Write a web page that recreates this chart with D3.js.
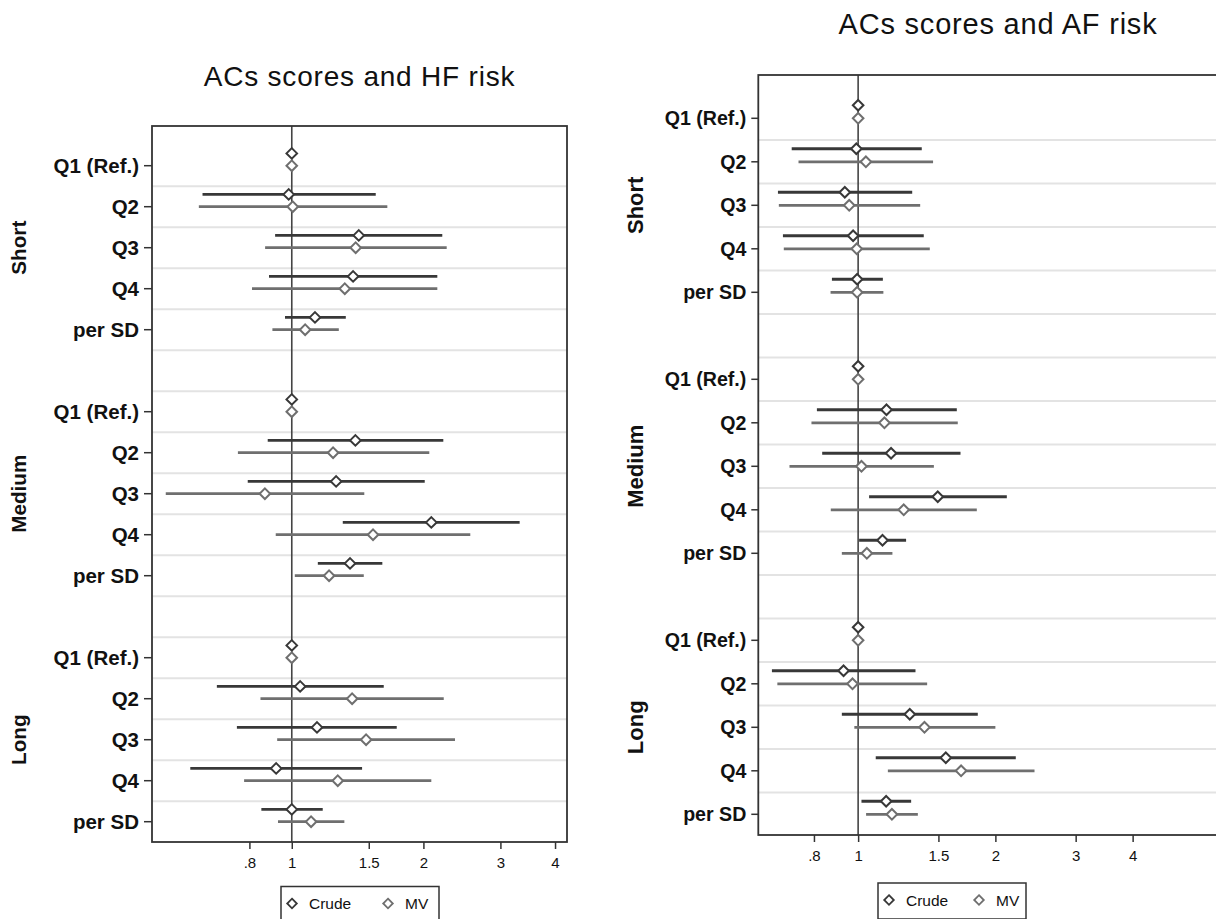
<!DOCTYPE html>
<html>
<head>
<meta charset="utf-8">
<script src="https://cdn.jsdelivr.net/npm/d3@7"></script>
<style>
  body { margin: 0; background: #fff; }
  svg { display: block; font-family: "Liberation Sans", Arial, sans-serif; }
</style>
</head>
<body>
<svg id="chart" width="1216" height="919"></svg>
<script>
// groups and rows, top to bottom
var sections = ['Short', 'Medium', 'Long']
var rowLabels = ['Q1 (Ref.)', 'Q2', 'Q3', 'Q4', 'per SD']
var tickValues = [0.8, 1, 1.5, 2, 3, 4]
var tickLabels = ['.8', '1', '1.5', '2', '3', '4']
var legendLabels = ['Crude', 'MV']

// [estimate, lower CI, upper CI] for each row (Short, Medium, Long)
var hfCrude = [
  [1, 1, 1], [0.984, 0.625, 1.556], [1.423, 0.916, 2.209], [1.381, 0.887, 2.152], [1.130, 0.965, 1.329],
  [1, 1, 1], [1.398, 0.881, 2.221], [1.263, 0.793, 2.014], [2.085, 1.308, 3.320], [1.359, 1.147, 1.611],
  [1, 1, 1], [1.045, 0.674, 1.623], [1.142, 0.749, 1.738], [0.921, 0.586, 1.448], [1.000, 0.852, 1.177]
]
var hfMV = [
  [1, 1, 1], [1.005, 0.613, 1.654], [1.400, 0.869, 2.261], [1.322, 0.811, 2.152], [1.073, 0.903, 1.281],
  [1, 1, 1], [1.243, 0.753, 2.063], [0.868, 0.515, 1.465], [1.534, 0.919, 2.560], [1.217, 1.016, 1.461],
  [1, 1, 1], [1.374, 0.848, 2.226], [1.479, 0.926, 2.362], [1.274, 0.778, 2.085], [1.107, 0.930, 1.319]
]
var afCrude = [
  [1, 1, 1], [0.991, 0.715, 1.379], [0.935, 0.667, 1.314], [0.975, 0.684, 1.393], [0.995, 0.876, 1.133],
  [1, 1, 1], [1.154, 0.812, 1.646], [1.181, 0.834, 1.677], [1.495, 1.057, 2.119], [1.131, 1.005, 1.274],
  [1, 1, 1], [0.929, 0.647, 1.336], [1.298, 0.921, 1.830], [1.557, 1.093, 2.217], [1.152, 1.017, 1.307]
]
var afMV = [
  [1, 1, 1], [1.040, 0.740, 1.460], [0.956, 0.670, 1.368], [0.993, 0.687, 1.436], [0.995, 0.870, 1.136],
  [1, 1, 1], [1.142, 0.790, 1.654], [1.017, 0.707, 1.466], [1.259, 0.871, 1.821], [1.045, 0.921, 1.189],
  [1, 1, 1], [0.972, 0.665, 1.417], [1.398, 0.981, 2.000], [1.682, 1.162, 2.437], [1.186, 1.041, 1.352]
]

var crudeColor = '#383838'
var mvColor = '#6f6f6f'
var font = '"Liberation Sans", Arial, sans-serif'

var svg = d3.select('#chart')

function drawPanel (p) {
  var g = svg.append('g')
  var x = d3.scaleLog().domain(p.xDomain).range([p.left, p.right])
  var y = d3.scaleLinear().domain([0, 16]).range([p.row0, p.row16])
  var step = y(1) - y(0)

  // row index for each estimate: 6 slots per section, last one empty
  var idx = []
  sections.forEach(function (s, si) {
    rowLabels.forEach(function (r, ri) { idx.push(si * 6 + ri) })
  })

  // light separators between rows
  g.append('g').selectAll('line')
    .data(d3.range(16))
    .enter().append('line')
    .attr('x1', p.left).attr('x2', p.right)
    .attr('y1', function (d) { return y(d + 0.5) })
    .attr('y2', function (d) { return y(d + 0.5) })
    .attr('stroke', '#e3e3e3')
    .attr('stroke-width', 2)

  // reference line at 1
  g.append('line')
    .attr('x1', x(1)).attr('x2', x(1))
    .attr('y1', p.top).attr('y2', p.bottom)
    .attr('stroke', '#444').attr('stroke-width', 1.6)

  var series = [
    { data: p.crude, color: crudeColor, off: -0.3 },
    { data: p.mv, color: mvColor, off: 0 }
  ]
  series.forEach(function (s) {
    var sg = g.append('g')
    sg.selectAll('line')
      .data(s.data)
      .enter().append('line')
      .attr('x1', function (d) { return x(d[1]) })
      .attr('x2', function (d) { return x(d[2]) })
      .attr('y1', function (d, i) { return y(idx[i] + s.off) })
      .attr('y2', function (d, i) { return y(idx[i] + s.off) })
      .attr('stroke', s.color)
      .attr('stroke-width', 2.8)
    sg.selectAll('path')
      .data(s.data)
      .enter().append('path')
      .attr('d', 'M0,-5.3L5.3,0L0,5.3L-5.3,0Z')
      .attr('transform', function (d, i) { return 'translate(' + x(d[0]) + ',' + y(idx[i] + s.off) + ')' })
      .attr('fill', '#fff')
      .attr('stroke', s.color)
      .attr('stroke-width', 2)
  })

  // frame
  g.append('rect')
    .attr('x', p.left).attr('y', p.top)
    .attr('width', p.right - p.left).attr('height', p.bottom - p.top)
    .attr('fill', 'none').attr('stroke', '#333').attr('stroke-width', 1.8)

  // x axis
  var xAxis = d3.axisBottom(x)
    .tickValues(tickValues)
    .tickFormat(function (d, i) { return tickLabels[i] })
    .tickSize(7)
    .tickPadding(p.tickPad)
  var ax = g.append('g')
    .attr('transform', 'translate(0,' + p.bottom + ')')
    .call(xAxis)
  ax.select('.domain').remove()
  ax.selectAll('line').attr('stroke', '#333').attr('stroke-width', 1.5)
  ax.selectAll('text').attr('font-family', font).attr('font-size', 15).attr('fill', '#111')

  // y axis ticks and row labels
  var rows = g.append('g').selectAll('g')
    .data(idx)
    .enter().append('g')
  rows.append('line')
    .attr('x1', p.left - p.yTick).attr('x2', p.left)
    .attr('y1', function (d) { return y(d) }).attr('y2', function (d) { return y(d) })
    .attr('stroke', '#333').attr('stroke-width', 1.5)
  rows.append('text')
    .attr('x', p.left - p.yTick - 5)
    .attr('y', function (d) { return y(d) })
    .attr('dy', '0.36em')
    .attr('text-anchor', 'end')
    .attr('font-weight', 'bold')
    .attr('font-size', p.rowFont)
    .attr('fill', '#111')
    .text(function (d, i) { return rowLabels[i % 5] })

  // section labels
  g.append('g').selectAll('text')
    .data(sections)
    .enter().append('text')
    .attr('transform', function (d, i) { return 'translate(' + p.secX + ',' + y(i * 6 + 2) + ') rotate(-90)' })
    .attr('text-anchor', 'middle')
    .attr('font-weight', 'bold')
    .attr('font-size', p.secFont)
    .attr('fill', '#111')
    .text(function (d) { return d })

  // title
  g.append('text')
    .attr('x', (p.left + p.right) / 2)
    .attr('y', p.titleY)
    .attr('text-anchor', 'middle')
    .attr('font-size', p.titleFont)
    .attr('letter-spacing', 0.8)
    .attr('fill', '#111')
    .text(p.title)

  // legend
  var lg = g.append('g').attr('transform', 'translate(' + p.legX + ',' + p.legY + ')')
  lg.append('rect')
    .attr('width', p.legW).attr('height', 36)
    .attr('fill', '#fff').attr('stroke', '#333').attr('stroke-width', 1.5)
  var items = lg.selectAll('g.item')
    .data(legendLabels)
    .enter().append('g')
    .attr('transform', function (d, i) { return 'translate(' + (i === 0 ? 11 : p.legMV) + ',17)' })
  items.append('path')
    .attr('d', 'M0,-4.8L4.8,0L0,4.8L-4.8,0Z')
    .attr('fill', '#fff')
    .attr('stroke', function (d, i) { return i === 0 ? crudeColor : mvColor })
    .attr('stroke-width', 1.8)
  items.append('text')
    .attr('x', 17)
    .attr('dy', '0.36em')
    .attr('font-size', 15.5)
    .attr('fill', '#111')
    .text(function (d) { return d })
}

drawPanel({
  title: 'ACs scores and HF risk', titleY: 86, titleFont: 28,
  left: 152, right: 567, top: 126, bottom: 842,
  row0: 165.7, row16: 821.7,
  xDomain: [0.479, 4.26],
  crude: hfCrude, mv: hfMV,
  tickPad: 8, yTick: 8, rowFont: 20.5, secFont: 20.7, secX: 26,
  legX: 281, legY: 886.5, legW: 158, legMV: 107
})

drawPanel({
  title: 'ACs scores and AF risk', titleY: 33.5, titleFont: 29,
  left: 758.3, right: 1237.7, top: 75, bottom: 835,
  row0: 118.3, row16: 814.3,
  xDomain: [0.604, 6.8],
  crude: afCrude, mv: afMV,
  tickPad: 8, yTick: 7, rowFont: 19.6, secFont: 22, secX: 643,
  legX: 878, legY: 883, legW: 148, legMV: 101
})
</script>
</body>
</html>
